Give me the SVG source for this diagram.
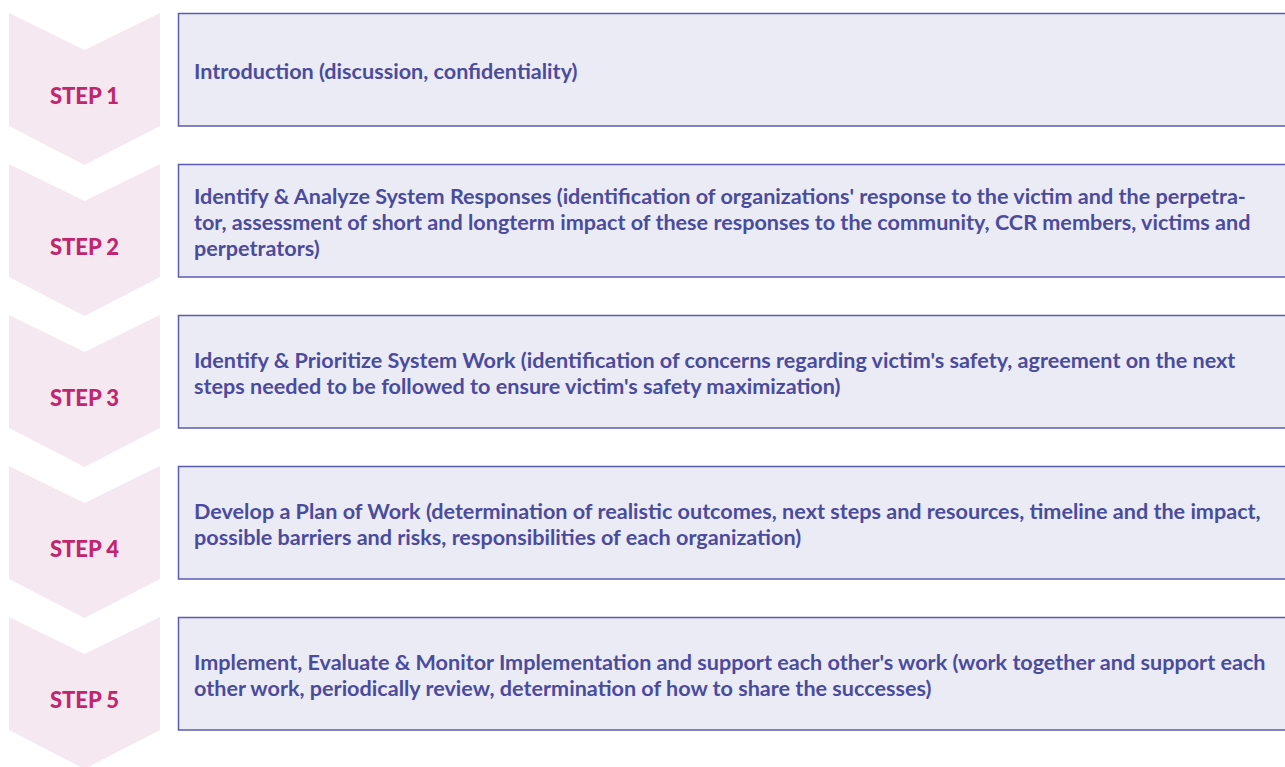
<svg xmlns="http://www.w3.org/2000/svg" width="1285" height="767" viewBox="0 0 1285 767">
<style>
.chev{fill:#f6e8f0;}
.box{fill:#ebebf5;stroke:#5b5baf;stroke-width:1.5;}
.step{font-family:Lato,"Liberation Sans",sans-serif;font-weight:900;font-size:22px;fill:#c0266e;text-anchor:middle;}
.txt{font-family:Lato,"Liberation Sans",sans-serif;font-weight:700;font-size:21.6px;fill:#4b4b9e;}
</style>
<defs>
<path id="chevron" d="M9,0 L84.5,37 L160,0 L160,113 L84.5,152 L9,113 Z"/>
</defs>
<rect width="1285" height="767" fill="#ffffff"/>
<g id="connectors"></g>
<g id="step1">
<use href="#chevron" class="chev" transform="translate(0,13)"/>
<text class="step" x="84.5" y="104">STEP 1</text>
<rect class="box" x="178.5" y="13.5" width="1120" height="112.5"/>
<text class="txt" x="194" y="78.5">Introduction (discussion, confidentiality)</text>
</g>
<g id="step2">
<use href="#chevron" class="chev" transform="translate(0,164)"/>
<text class="step" x="84.5" y="255">STEP 2</text>
<rect class="box" x="178.5" y="164.5" width="1120" height="112.5"/>
<text class="txt" x="194" y="203.5">Identify &amp; Analyze System Responses (identification of organizations' response to the victim and the perpetra-</text>
<text class="txt" x="194" y="229.5">tor, assessment of short and longterm impact of these responses to the community, CCR members, victims and</text>
<text class="txt" x="194" y="255.5">perpetrators)</text>
</g>
<g id="step3">
<use href="#chevron" class="chev" transform="translate(0,315)"/>
<text class="step" x="84.5" y="406">STEP 3</text>
<rect class="box" x="178.5" y="315.5" width="1120" height="112.5"/>
<text class="txt" x="194" y="367.5">Identify &amp; Prioritize System Work (identification of concerns regarding victim's safety, agreement on the next</text>
<text class="txt" x="194" y="393.5">steps needed to be followed to ensure victim's safety maximization)</text>
</g>
<g id="step4">
<use href="#chevron" class="chev" transform="translate(0,466)"/>
<text class="step" x="84.5" y="557">STEP 4</text>
<rect class="box" x="178.5" y="466.5" width="1120" height="112.5"/>
<text class="txt" x="194" y="518.5">Develop a Plan of Work (determination of realistic outcomes, next steps and resources, timeline and the impact,</text>
<text class="txt" x="194" y="544.5">possible barriers and risks, responsibilities of each organization)</text>
</g>
<g id="step5">
<use href="#chevron" class="chev" transform="translate(0,617)"/>
<text class="step" x="84.5" y="708">STEP 5</text>
<rect class="box" x="178.5" y="617.5" width="1120" height="112.5"/>
<text class="txt" x="194" y="669.5">Implement, Evaluate &amp; Monitor Implementation and support each other's work (work together and support each</text>
<text class="txt" x="194" y="695.5">other work, periodically review, determination of how to share the successes)</text>
</g>
</svg>
